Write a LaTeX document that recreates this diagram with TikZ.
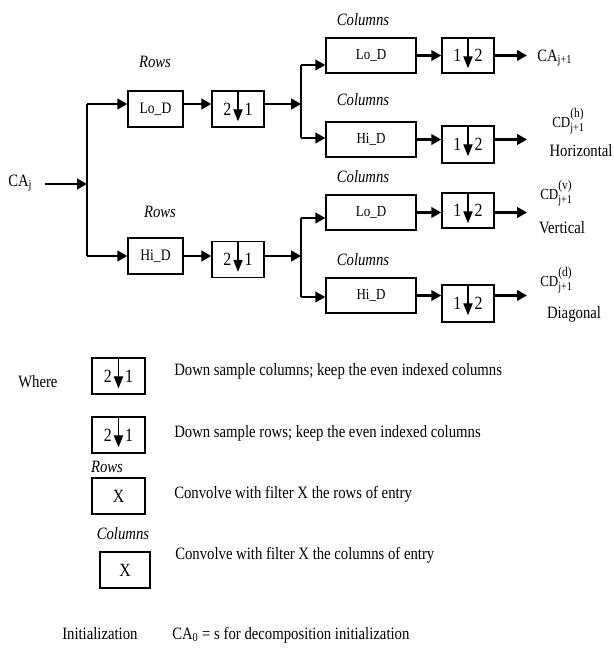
\documentclass[tikz,border=0pt]{standalone}
\usepackage{fontspec}
\setmainfont[FakeStretch=0.85]{Liberation Serif}
\usetikzlibrary{arrows.meta,calc}
\newcommand{\cdlab}[1]{CD\rlap{\raisebox{7pt}{\fontsize{10}{11}\selectfont(#1)}}\raisebox{-3.5pt}{\fontsize{9}{10}\selectfont j+1}}
\begin{document}
\begin{tikzpicture}[x=0.75pt,y=-0.75pt,
  arr/.style={line width=1.6pt,-{Triangle[length=7.5pt,width=8pt]}},
  ln/.style={line width=1.2pt},
  dsa/.style={line width=0.8pt,-{Triangle[length=9pt,width=7pt]}},
  rowbox/.style={draw,line width=1.1pt,inner sep=0pt,minimum width=41.25pt,minimum height=27pt,font=\fontsize{12}{14}\selectfont},
  colbox/.style={draw,line width=1.1pt,inner sep=0pt,minimum width=67.5pt,minimum height=26.25pt,font=\fontsize{11.5}{14}\selectfont},
  dsbox/.style={draw,line width=1.1pt,inner sep=0pt,minimum width=39pt,minimum height=27pt,font=\fontsize{14}{16}\selectfont},
  lbl/.style={inner sep=0pt,font=\fontsize{13}{15}\selectfont},
  itl/.style={inner sep=0pt,font=\fontsize{13}{15}\selectfont\itshape},
  cdl/.style={inner sep=0pt,font=\fontsize{11.5}{13}\selectfont}]
\useasboundingbox (0,0) rectangle (614,650);

% ---- main diagram ----
\node[lbl,anchor=base west] (CAj) at (8,186) {CA\textsubscript{j}};
\coordinate (in0) at (45,184);
\coordinate (f0) at (87,184);
\coordinate (f0t) at (87,104);
\coordinate (f0b) at (87,256);

\node[rowbox] (rowLo) at (155.5,109) {Lo\_D};
\node[rowbox] (rowHi) at (155.5,256) {Hi\_D};
\node[itl] (rowsT) at (155,62) {Rows};
\node[itl] (rowsB) at (160,212) {Rows};

\node[dsbox] (dsr1) at (238,109) {2\hspace{10pt}1};
\node[dsbox] (dsr2) at (238,259.5) {2\hspace{10pt}1};

\node[colbox] (colLo1) at (371,55.5) {Lo\_D};
\node[colbox] (colHi1) at (371,139.5) {Hi\_D};
\node[colbox] (colLo2) at (371,212.5) {Lo\_D};
\node[colbox] (colHi2) at (371,295.5) {Hi\_D};
\node[itl] (c1) at (363,20) {Columns};
\node[itl] (c2) at (363,100) {Columns};
\node[itl] (c3) at (363,177) {Columns};
\node[itl] (c4) at (363,260) {Columns};

\node[dsbox,minimum height=26.25pt] (dsc1) at (468,55.5) {1\hspace{10pt}2};
\node[dsbox,minimum height=27.75pt] (dsc2) at (468,144.5) {1\hspace{10pt}2};
\node[dsbox,minimum height=26.25pt] (dsc3) at (468,210.5) {1\hspace{10pt}2};
\node[dsbox,minimum height=27.75pt] (dsc4) at (468,303.5) {1\hspace{10pt}2};

\foreach \b in {dsr1,dsr2,dsc1,dsc2,dsc3,dsc4}
  \draw[dsa] (\b.north) -- ++(0,31);

% connectors
\draw[arr] (in0) -- (f0);
\draw[ln] (f0t) -- (f0b);
\draw[arr] (f0t) -- (f0t -| rowLo.west);
\draw[arr] (f0b) -- (f0b -| rowHi.west);
\draw[arr] (rowLo.east |- f0t) -- (dsr1.west |- f0t);
\draw[arr] (rowHi.east |- f0b) -- (dsr2.west |- f0b);

\coordinate (f1) at (301,104);
\coordinate (f1t) at (301,65);
\coordinate (f1b) at (301,138);
\draw[arr] (dsr1.east |- f1) -- (f1);
\draw[ln] (f1t) -- (f1b);
\draw[arr] (f1t) -- (f1t -| colLo1.west);
\draw[arr] (f1b) -- (f1b -| colHi1.west);

\coordinate (f2) at (301,256);
\coordinate (f2t) at (301,218);
\coordinate (f2b) at (301,297);
\draw[arr] (dsr2.east |- f2) -- (f2);
\draw[ln] (f2t) -- (f2b);
\draw[arr] (f2t) -- (f2t -| colLo2.west);
\draw[arr] (f2b) -- (f2b -| colHi2.west);

\draw[arr] (colLo1.east) -- (colLo1.east -| dsc1.west);
\draw[arr] (colHi1.east) -- (colHi1.east -| dsc2.west);
\draw[arr] (colLo2.east) -- (colLo2.east -| dsc3.west);
\draw[arr] (colHi2.east) -- (colHi2.east -| dsc4.west);

\coordinate (o1) at (527,55.5);
\coordinate (o2) at (527,139.5);
\coordinate (o3) at (527,212.5);
\coordinate (o4) at (527,295.5);
\draw[arr] (dsc1.east |- o1) -- (o1);
\draw[arr] (dsc2.east |- o2) -- (o2);
\draw[arr] (dsc3.east |- o3) -- (o3);
\draw[arr] (dsc4.east |- o4) -- (o4);

\node[lbl,anchor=base west] (CAj1) at (537,61) {CA\textsubscript{j+1}};
\node[cdl,anchor=base west] (cdh) at (552,127) {\cdlab{h}};
\node[lbl] (hor) at (581,151) {Horizontal};
\node[cdl,anchor=base west] (cdv) at (540,199) {\cdlab{v}};
\node[lbl] (ver) at (562,228) {Vertical};
\node[cdl,anchor=base west] (cdd) at (540,286) {\cdlab{d}};
\node[lbl] (dia) at (574,314) {Diagonal};

% ---- legend ----
\node[lbl,anchor=base west] (where) at (18,387) {Where};
\node[dsbox,minimum width=39.75pt] (L1) at (118.5,376) {2\hspace{10pt}1};
\node[dsbox,minimum width=39.75pt] (L2) at (118.5,435) {2\hspace{10pt}1};
\draw[dsa] (L1.north) -- ++(0,31);
\draw[dsa] (L2.north) -- ++(0,31);
\node[itl] (Lrows) at (107,467) {Rows};
\node[dsbox,minimum width=39.75pt] (L3) at (118.5,496) {X};
\node[itl] (Lcols) at (123,534) {Columns};
\node[dsbox,minimum width=37.5pt] (L4) at (125,570) {X};

\node[lbl,anchor=base west] (t1) at (174,375) {Down sample columns; keep the even indexed columns};
\node[lbl,anchor=base west] (t2) at (174,437) {Down sample rows; keep the even indexed columns};
\node[lbl,anchor=base west] (t3) at (174,498) {Convolve with filter X the rows of entry};
\node[lbl,anchor=base west] (t4) at (175,559) {Convolve with filter X the columns of entry};

\node[lbl,anchor=base west] (init) at (62,639) {Initialization};
\node[lbl,anchor=base west] (ca0) at (172,639) {CA\textsubscript{0} = s for decomposition initialization};
\end{tikzpicture}
\end{document}
